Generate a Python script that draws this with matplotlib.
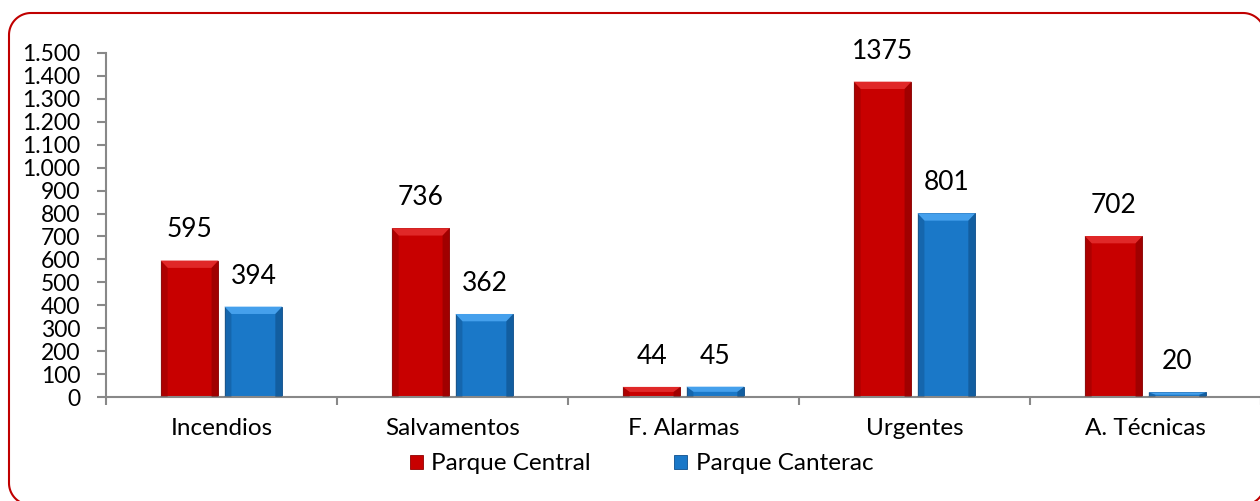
import matplotlib.pyplot as plt
import numpy as np
from matplotlib.patches import Polygon
from matplotlib.lines import Line2D
from matplotlib.ticker import FuncFormatter, FixedLocator

plt.rcParams['font.family'] = ['Lato', 'DejaVu Sans']

categories = ["Incendios", "Salvamentos", "F. Alarmas", "Urgentes", "A. Técnicas"]
central = [595, 736, 44, 1375, 702]
canterac = [394, 362, 45, 801, 20]
series_names = ["Parque Central", "Parque Canterac"]

red = '#C80000'
blue = '#1A78C8'

fig = plt.figure(figsize=(12.6, 5.01), dpi=100)
ax = fig.add_axes([106 / 1260, 104 / 501, 1155 / 1260, 344 / 501])

x = np.arange(len(categories))
w = 0.25
b1 = ax.bar(x - 0.138, central, width=w, color=red, edgecolor='#900000', linewidth=0.6, label=series_names[0])
b2 = ax.bar(x + 0.138, canterac, width=w, color=blue, edgecolor='#0E4F8C', linewidth=0.6, label=series_names[1])

ax.set_xlim(-0.5, len(categories) - 0.5)
ax.set_ylim(0, 1500)


# bevel look on the bars
def bevel(bars, light, dark):
    for p in bars:
        x0, w0, h0 = p.get_x(), p.get_width(), p.get_height()
        dx = 0.03
        dy = min(32, h0 / 2)
        x1 = x0 + w0
        ax.add_patch(Polygon([(x0, h0), (x1, h0), (x1 - dx, h0 - dy), (x0 + dx, h0 - dy)],
                             closed=True, color=light, lw=0, zorder=3))
        ax.add_patch(Polygon([(x0, 0), (x0, h0), (x0 + dx, h0 - dy), (x0 + dx, 0)],
                             closed=True, color=dark, lw=0, zorder=3, alpha=0.3))
        ax.add_patch(Polygon([(x1, 0), (x1, h0), (x1 - dx, h0 - dy), (x1 - dx, 0)],
                             closed=True, color=dark, lw=0, zorder=3, alpha=0.45))


bevel(b1, '#E02828', '#700000')
bevel(b2, '#45A0EC', '#0A3F70')

for bars, vals in ((b1, central), (b2, canterac)):
    for p, v in zip(bars, vals):
        ax.annotate(str(v), (p.get_x() + p.get_width() / 2, p.get_height()),
                    xytext=(0, 13), textcoords='offset points',
                    ha='center', va='bottom', fontsize=19)

ax.set_yticks(np.arange(0, 1501, 100))
ax.yaxis.set_major_formatter(FuncFormatter(lambda v, p: f"{int(v):,}".replace(",", ".")))
ax.xaxis.set_major_locator(FixedLocator(np.arange(-0.5, len(categories), 1)))
ax.xaxis.set_minor_locator(FixedLocator(x))
ax.set_xticklabels([])
ax.set_xticklabels(categories, minor=True)
ax.tick_params(axis='x', which='major', length=6, width=1.5, color='#888888')
ax.tick_params(axis='x', which='minor', length=0, pad=15, labelsize=17.5)
ax.tick_params(axis='y', length=6.5, width=1.5, color='#888888', labelsize=16.5, pad=12)

for s in ('top', 'right'):
    ax.spines[s].set_visible(False)
for s in ('left', 'bottom'):
    ax.spines[s].set_color('#888888')
    ax.spines[s].set_linewidth(1.5)

fig.legend(handles=[b1, b2], labels=series_names, loc='center', bbox_to_anchor=(0.509, 0.074),
           ncol=2, frameon=False, fontsize=17.5, handlelength=0.55, handleheight=0.55,
           handletextpad=0.35, columnspacing=3.4)


# rounded red border in pixels, as a polyline (runs off the right and bottom edges)
def rounded_rect(x0, y0, x1, y1, r, n=30):
    pts = []
    for cx, cy, a0 in ((x1 - r, y1 - r, 0), (x0 + r, y1 - r, 90),
                       (x0 + r, y0 + r, 180), (x1 - r, y0 + r, 270)):
        t = np.radians(np.linspace(a0, a0 + 90, n))
        pts += list(zip(cx + r * np.cos(t), cy + r * np.sin(t)))
    pts.append(pts[0])
    return np.array(pts)


border = rounded_rect(9, -4, 1265, 488, 22)
fig.add_artist(Line2D(border[:, 0], border[:, 1], transform=None,
                      color='#C00000', linewidth=1.5))

fig.savefig('out.png', dpi=100)
